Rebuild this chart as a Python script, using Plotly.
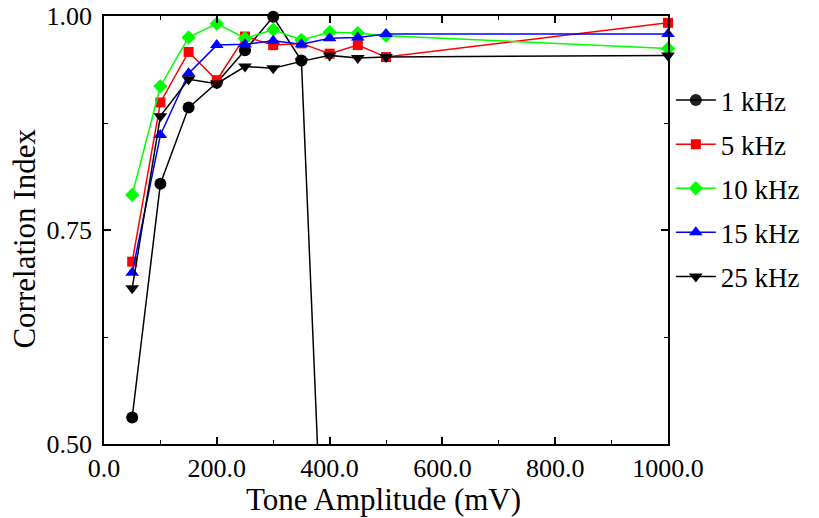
import plotly.graph_objects as go

amplitude = [50, 100, 150, 200, 250, 300, 350, 400, 450, 500, 1000]
amp_1k = [50, 100, 150, 200, 250, 300, 350, 400]
ci_1k = [0.531, 0.804, 0.893, 0.922, 0.960, 0.999, 0.948, 0.16]
ci_5k = [0.713, 0.899, 0.958, 0.925, 0.976, 0.966, 0.968, 0.956, 0.966, 0.952, 0.992]
ci_10k = [0.791, 0.918, 0.975, 0.991, 0.974, 0.984, 0.972, 0.981, 0.980, 0.977, 0.962]
ci_15k = [0.700, 0.861, 0.933, 0.966, 0.967, 0.971, 0.967, 0.974, 0.975, 0.979, 0.979]
ci_25k = [0.682, 0.883, 0.926, 0.921, 0.941, 0.939, 0.947, 0.954, 0.951, 0.952, 0.954]

x_ticks = [0, 200, 400, 600, 800, 1000]
y_ticks = [0.50, 0.75, 1.00]
y_min, y_max = 0.5, 1.0
x_title = "Tone Amplitude (mV)"
y_title = "Correlation Index"

series = [
    ("1 kHz", amp_1k, ci_1k, "black", "circle", 12),
    ("5 kHz", amplitude, ci_5k, "#ff0000", "square", 10),
    ("10 kHz", amplitude, ci_10k, "#00ff00", "diamond", 11),
    ("15 kHz", amplitude, ci_15k, "#0000ff", "triangle-up", 12),
    ("25 kHz", amplitude, ci_25k, "black", "triangle-down", 12),
]

font_family = "Liberation Serif"
fig = go.Figure()
for i, (name, xs, ys, color, sym, size) in enumerate(series):
    opac = [1 if y_min <= v <= y_max + 0.01 else 0 for v in ys]
    fig.add_trace(go.Scatter(
        x=xs, y=ys, name=name, mode="lines+markers",
        line=dict(color=color, width=1.5),
        marker=dict(color=color, symbol=sym, size=size, opacity=opac),
        cliponaxis=False, legendgroup=f"g{i}",
    ))

axis_common = dict(
    showline=True, linecolor="black", linewidth=1.5, mirror="ticks",
    ticks="inside", ticklen=7, tickwidth=1.5, tickcolor="black",
    showgrid=False, zeroline=False, automargin=False,
    tickfont=dict(family=font_family, size=26, color="black"),
)
fig.update_xaxes(
    range=[0, 1000], tickvals=x_ticks, tickformat=".1f",
    minor=dict(ticks="inside", ticklen=4, tickwidth=1.2, tickcolor="black", dtick=100),
    **axis_common,
)
fig.update_yaxes(
    range=[y_min, y_max], tickvals=y_ticks, tickformat=".2f", ticklabelstandoff=5,
    minor=dict(ticks="inside", ticklen=4, tickwidth=1.2, tickcolor="black", dtick=0.125),
    **axis_common,
)
fig.add_annotation(text=x_title, xref="paper", yref="paper", x=0.495, y=-0.13,
                   xanchor="center", yanchor="middle", showarrow=False,
                   font=dict(family=font_family, size=31, color="black"))
fig.add_annotation(text=y_title, xref="paper", yref="paper", x=0, xshift=-79, y=0.48,
                   xanchor="center", yanchor="middle", showarrow=False, textangle=-90,
                   font=dict(family=font_family, size=31, color="black"))
fig.update_layout(
    width=819, height=518,
    margin=dict(l=104, r=151, t=16, b=74, autoexpand=False),
    paper_bgcolor="white", plot_bgcolor="white",
    font=dict(family=font_family),
    legend=dict(x=1.005, xanchor="left", y=0.597, yanchor="middle",
                font=dict(family=font_family, size=27, color="black"),
                tracegroupgap=6, itemwidth=40, bgcolor="rgba(0,0,0,0)"),
    showlegend=True,
)
fig.write_html("out.html")
